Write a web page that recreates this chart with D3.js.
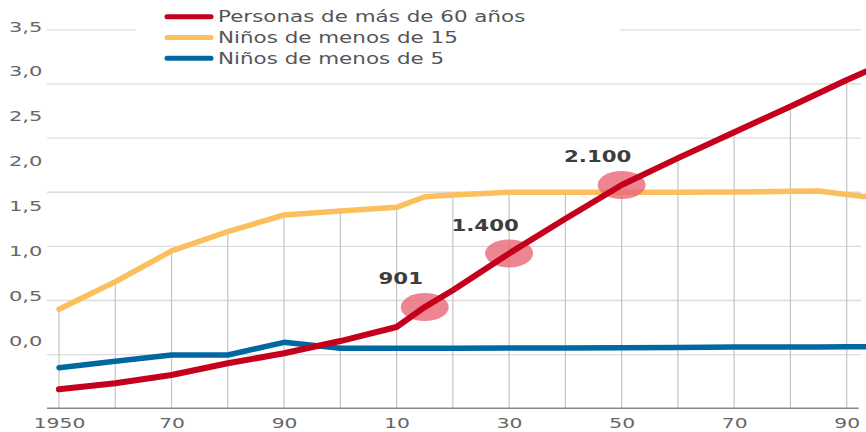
<!DOCTYPE html>
<html>
<head>
<meta charset="utf-8">
<script src="https://cdn.jsdelivr.net/npm/d3@7"></script>
<style>
  body { margin: 0; background: #fff; }
  svg { display: block; }
</style>
</head>
<body>
<div id="mainContainer"></div>
<script>
// población mundial, miles de millones
var years   = [1950, 1960, 1970, 1980, 1990, 2000, 2010, 2015, 2020, 2030, 2040, 2050, 2060, 2070, 2080, 2085, 2090, 2100];
var over60  = [0.175, 0.231, 0.307, 0.416, 0.508, 0.621, 0.751, 0.935, 1.09, 1.43, 1.75, 2.062, 2.31, 2.55, 2.787, 2.909, 3.031, 3.26];
var under15 = [0.914, 1.169, 1.453, 1.631, 1.785, 1.822, 1.856, 1.954, 1.97, 1.995, 1.995, 1.995, 1.995, 1.997, 2.004, 2.006, 1.974, 1.915];
var under5  = [0.375, 0.434, 0.492, 0.492, 0.609, 0.554, 0.554, 0.554, 0.555, 0.557, 0.558, 0.56, 0.562, 0.565, 0.566, 0.567, 0.568, 0.57];

var seriesNames = ["Personas de más de 60 años", "Niños de menos de 15", "Niños de menos de 5"];
var seriesColors = ["#c4001c", "#fbbf5e", "#0068a1"];

var yTicks = [0, 0.5, 1, 1.5, 2, 2.5, 3, 3.5];
var xTicks = [1950, 1970, 1990, 2010, 2030, 2050, 2070, 2090];
var xTickLabels = ["1950", "70", "90", "10", "30", "50", "70", "90"];
var decades = [1950, 1960, 1970, 1980, 1990, 2000, 2010, 2020, 2030, 2040, 2050, 2060, 2070, 2080, 2090];

var annYears = [2015, 2030, 2050];
var annLabels = ["901", "1.400", "2.100"];

var width = 866, height = 432;

var svg = d3.select('#mainContainer').append('svg')
    .attr('width', width)
    .attr('height', height);

var x = d3.scaleLinear().domain([1950, 2090]).range([59, 846.7]);
var y = d3.scaleLinear().domain([0, 3.5]).range([408.3, 29.3]);
// las etiquetas del eje vertical no coinciden con la cuadrícula en el original
var yLabel = d3.scaleLinear().domain([0, 3.5]).range([340.5, 26]);

var fontFam = "'DejaVu Sans', Verdana, sans-serif";

// cuadrícula horizontal
var grid = svg.append("g")
    .attr("transform", "translate(47,0)")
    .call(d3.axisLeft(y).tickValues(yTicks.slice(1)).tickSize(-(861 - 47)).tickFormat(""));
grid.select(".domain").remove();
grid.selectAll("line").attr("stroke", "#dcdcdc").attr("stroke-width", 1.3);

// líneas verticales hasta la serie más alta
var all = [over60, under15, under5];
svg.append("g").selectAll("line")
    .data(decades)
    .enter().append("line")
    .attr("x1", function(d) { return x(d); })
    .attr("x2", function(d) { return x(d); })
    .attr("y1", y(0))
    .attr("y2", function(d) {
        var i = years.indexOf(d);
        return y(d3.max(all, function(s) { return s[i]; }));
    })
    .attr("stroke", "#c4c4c4")
    .attr("stroke-width", 1.2);

// línea base
svg.append("line")
    .attr("x1", x(1950) - 12).attr("x2", x(2090) + 12)
    .attr("y1", y(0)).attr("y2", y(0))
    .attr("stroke", "#8a8a8a")
    .attr("stroke-width", 1.6);

// etiquetas eje y
var yAx = svg.append("g")
    .attr("transform", "translate(9,0)")
    .call(d3.axisLeft(yLabel).tickValues(yTicks).tickSize(0)
        .tickFormat(function(d) { return d3.format(".1f")(d).replace(".", ","); }));
yAx.select(".domain").remove();
yAx.selectAll("text")
    .attr("x", 0).attr("dy", "0.36em")
    .attr("text-anchor", "start")
    .attr("transform", "scale(1.5,1)")
    .attr("fill", "#666")
    .attr("font-family", fontFam)
    .attr("font-size", "14px");

// etiquetas eje x
var xAx = svg.append("g")
    .attr("transform", "translate(0," + y(0) + ")")
    .call(d3.axisBottom(x).tickValues(xTicks).tickSize(0)
        .tickFormat(function(d, i) { return xTickLabels[i]; }));
xAx.select(".domain").remove();
xAx.selectAll("text")
    .attr("y", 20).attr("dy", 0)
    .attr("transform", "scale(1.45,1)")
    .attr("fill", "#666")
    .attr("font-family", fontFam)
    .attr("font-size", "14px");

var line = d3.line()
    .x(function(d, i) { return x(years[i]); })
    .y(function(d) { return y(d); });

function drawSeries(data, color, w) {
    svg.append("path")
        .datum(data)
        .attr("d", line)
        .attr("fill", "none")
        .attr("stroke", color)
        .attr("stroke-width", w)
        .attr("stroke-linejoin", "round")
        .attr("stroke-linecap", "round");
}

drawSeries(under15, seriesColors[1], 5.5);
drawSeries(under5, seriesColors[2], 5.5);

// marcas de anotación
var ann = svg.append("g");
ann.selectAll("ellipse")
    .data(annYears)
    .enter().append("ellipse")
    .attr("cx", function(d) { return x(d); })
    .attr("cy", function(d) { return y(over60[years.indexOf(d)]); })
    .attr("rx", 24)
    .attr("ry", 14)
    .attr("fill", "#ea6677")
    .attr("fill-opacity", 0.8);

drawSeries(over60, seriesColors[0], 6);

ann.selectAll("text")
    .data(annYears)
    .enter().append("text")
    .attr("transform", function(d) {
        return "translate(" + (x(d) - 24) + "," + (y(over60[years.indexOf(d)]) - 28) + ") scale(1.42,1)";
    })
    .attr("text-anchor", "middle")
    .attr("dy", "0.36em")
    .attr("fill", "#3d3d3d")
    .attr("font-family", fontFam)
    .attr("font-weight", "bold")
    .attr("font-size", "15px")
    .text(function(d, i) { return annLabels[i]; });

// leyenda
svg.append("rect")
    .attr("x", 136).attr("y", 0)
    .attr("width", 620 - 136).attr("height", 68)
    .attr("fill", "#fff");

var legend = svg.append("g");
var rows = legend.selectAll("g")
    .data(seriesNames)
    .enter().append("g")
    .attr("transform", function(d, i) { return "translate(0," + (16.7 + i * 20.8) + ")"; });
rows.append("line")
    .attr("x1", 167).attr("x2", 211)
    .attr("stroke", function(d, i) { return seriesColors[i]; })
    .attr("stroke-width", 5)
    .attr("stroke-linecap", "round");
rows.append("text")
    .attr("transform", "translate(218,0) scale(1.34,1)")
    .attr("dy", "0.36em")
    .attr("fill", "#555")
    .attr("font-family", fontFam)
    .attr("font-size", "16px")
    .text(function(d) { return d; });
</script>
</body>
</html>
